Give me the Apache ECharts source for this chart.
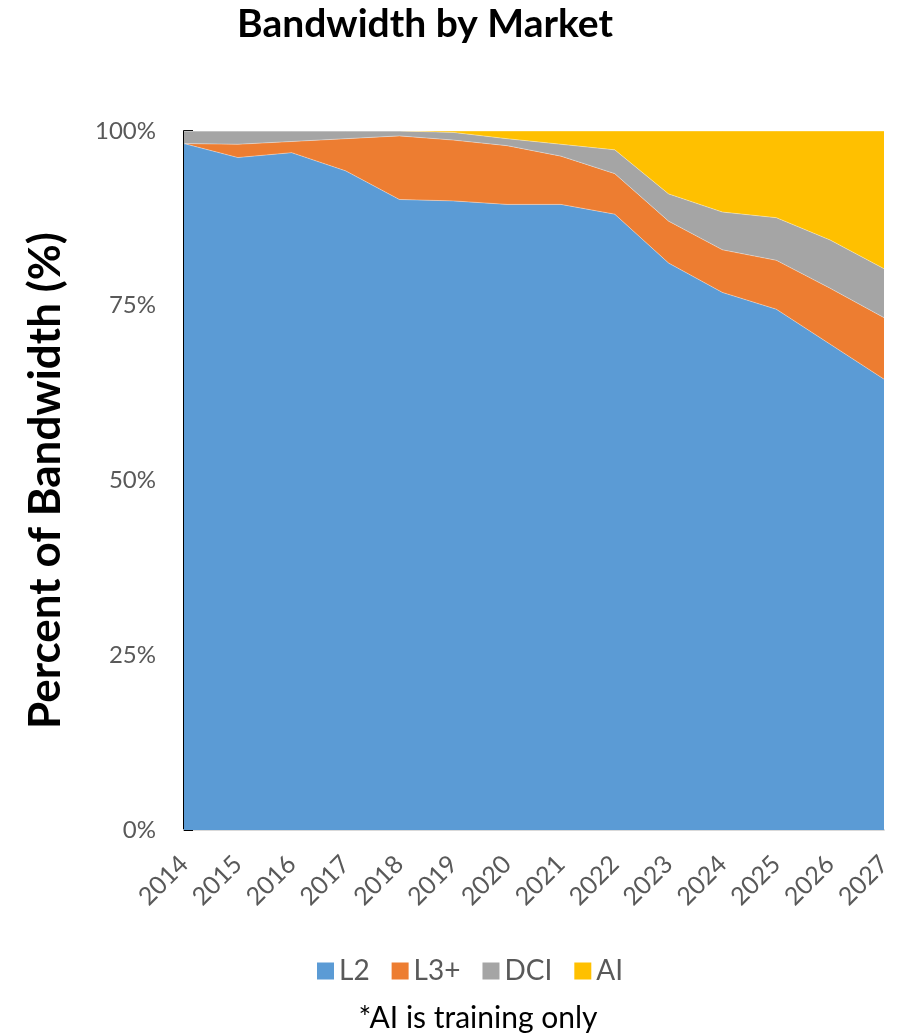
<!DOCTYPE html>
<html>
<head>
<meta charset="utf-8">
<script src="https://cdn.jsdelivr.net/npm/echarts@6/dist/echarts.min.js"></script>
<style>
  html, body { margin: 0; padding: 0; background: #fff; }
  #chart { width: 902px; height: 1036px; }
</style>
</head>
<body>
<div id="chart"></div>
<script>
// years on the x axis
var years = ['2014', '2015', '2016', '2017', '2018', '2019', '2020',
  '2021', '2022', '2023', '2024', '2025', '2026', '2027']

// share of bandwidth per market (%)
var l2 = [98.2, 96.2, 96.9, 94.3, 90.2, 90.0, 89.5, 89.5, 88.1, 81.1, 76.9, 74.5, 69.5, 64.5]
var l3 = [0.0, 1.9, 1.6, 4.6, 9.1, 8.7, 8.4, 6.9, 5.8, 6.0, 6.1, 7.0, 8.0, 8.8]
var dci = [1.8, 1.9, 1.5, 1.1, 0.7, 1.1, 1.0, 1.7, 3.4, 3.9, 5.4, 6.1, 6.9, 7.0]
var ai = [0.0, 0.0, 0.0, 0.0, 0.0, 0.2, 1.1, 1.9, 2.7, 9.0, 11.6, 12.4, 15.6, 19.7]

var colors = ['#5B9BD5', '#ED7D31', '#A5A5A5', '#FFC000']
var font = 'Lato, "Open Sans", sans-serif'

function areaSeries (name, data) {
  return {
    name: name,
    type: 'line',
    stack: 'total',
    data: data,
    symbol: 'none',
    lineStyle: { width: 0.6, color: '#ffffff', opacity: 0.6 },
    areaStyle: { opacity: 1 },
    emphasis: { disabled: true }
  }
}

var myChart = echarts.init(document.getElementById('chart'))
var option = {
  animation: false,
  color: colors,
  textStyle: { fontFamily: font },
  title: [{
    text: 'Bandwidth by Market',
    left: 420,
    top: 0,
    textAlign: 'center',
    textStyle: { fontSize: 39, fontWeight: 'bold', color: '#000', fontFamily: font }
  }, {
    text: '*AI is training only',
    left: 473,
    top: 998,
    textAlign: 'center',
    textStyle: { fontSize: 30, fontWeight: 'normal', color: '#000', fontFamily: font }
  }],
  legend: {
    left: 312,
    top: 952,
    itemWidth: 17,
    itemHeight: 17,
    itemGap: 22,
    icon: 'rect',
    data: ['L2', 'L3+', 'DCI', 'AI'],
    textStyle: { fontSize: 28, color: '#595959', fontFamily: font }
  },
  grid: { left: 184, right: 18, top: 131, bottom: 206 },
  xAxis: {
    type: 'category',
    boundaryGap: false,
    data: years,
    axisLine: { show: true, lineStyle: { color: '#D9D9D9', width: 2 } },
    axisTick: { show: false },
    axisLabel: {
      rotate: 45,
      margin: 30,
      fontSize: 25,
      color: '#595959',
      fontFamily: font
    }
  },
  yAxis: {
    type: 'value',
    min: 0,
    max: 100,
    interval: 25,
    name: 'Percent of Bandwidth (%)',
    nameLocation: 'middle',
    nameRotate: 90,
    nameGap: 116,
    nameTextStyle: { fontSize: 44, fontWeight: 'bold', color: '#000', fontFamily: font },
    axisLine: { show: true, lineStyle: { color: '#000', width: 2 } },
    axisTick: { show: true, inside: true, length: 9, lineStyle: { color: '#000', width: 2 } },
    splitLine: { show: false },
    axisLabel: {
      formatter: '{value}%',
      fontSize: 24,
      margin: 28,
      color: '#595959',
      fontFamily: font
    }
  },
  series: [
    areaSeries('L2', l2),
    areaSeries('L3+', l3),
    areaSeries('DCI', dci),
    areaSeries('AI', ai)
  ]
}
myChart.setOption(option)
</script>
</body>
</html>
